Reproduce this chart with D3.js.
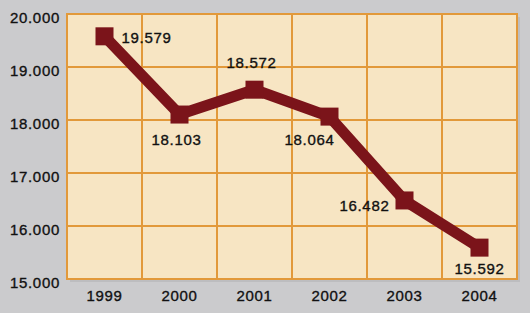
<!DOCTYPE html>
<html>
<head>
<meta charset="utf-8">
<script src="https://cdn.jsdelivr.net/npm/d3@7"></script>
<style>
  body { margin: 0; background: #cbcbcd; }
  svg { display: block; }
  text { font-family: "Liberation Sans", Arial, sans-serif; font-size: 15px; fill: #111; stroke: #111; stroke-width: 0.35px; letter-spacing: 0.7px; }
</style>
</head>
<body>
<div id="container"></div>
<script>
/* DATA */
const years = ["1999", "2000", "2001", "2002", "2003", "2004"];
const values = [19579, 18103, 18572, 18064, 16482, 15592];
const valueLabels = ["19.579", "18.103", "18.572", "18.064", "16.482", "15.592"];
const yTicks = [15000, 16000, 17000, 18000, 19000, 20000];
const yTickLabels = ["15.000", "16.000", "17.000", "18.000", "19.000", "20.000"];

// where each value label sits relative to its marker
const labelPlace = [
  {dx: 17, dy: 7, anchor: "start"},
  {dx: -3, dy: 30, anchor: "middle"},
  {dx: -3, dy: -22, anchor: "middle"},
  {dx: -20, dy: 28, anchor: "middle"},
  {dx: -15, dy: 11, anchor: "end"},
  {dx: 0, dy: 26, anchor: "middle"}
];

const W = 530, H = 313;
const margin = {top: 14, right: 13, bottom: 34, left: 67};
const width = W - margin.left - margin.right,
  height = H - margin.top - margin.bottom;

const svg = d3.select("#container")
  .append("svg")
  .attr("width", W)
  .attr("height", H);

svg.append("rect")
  .attr("width", W).attr("height", H)
  .attr("fill", "#cbcbcd");

const g = svg.append("g")
  .attr("transform", `translate(${margin.left},${margin.top})`);

const xScale = d3.scaleBand()
  .domain(years)
  .range([0, width]);

const yScale = d3.scaleLinear()
  .domain([15000, 20000])
  .range([height, 0]);

// shadow + plot background
g.append("rect")
  .attr("x", 3).attr("y", 3)
  .attr("width", width).attr("height", height)
  .attr("fill", "#bdbdbf");
g.append("rect")
  .attr("width", width).attr("height", height)
  .attr("fill", "#f7e5c3");

// grid lines
g.selectAll(".hgrid")
  .data(yTicks)
  .join("line")
  .attr("x1", 0).attr("x2", width)
  .attr("y1", d => yScale(d)).attr("y2", d => yScale(d))
  .attr("stroke", "#e2993a")
  .attr("stroke-width", 2);

g.selectAll(".vgrid")
  .data(years.slice(1))
  .join("line")
  .attr("x1", d => xScale(d)).attr("x2", d => xScale(d))
  .attr("y1", 0).attr("y2", height)
  .attr("stroke", "#e2993a")
  .attr("stroke-width", 2);

g.append("rect")
  .attr("width", width).attr("height", height)
  .attr("fill", "none")
  .attr("stroke", "#e2993a")
  .attr("stroke-width", 2);

// axes labels
const yAxis = g.append("g")
  .call(d3.axisLeft(yScale).tickValues(yTicks)
    .tickFormat((d, i) => yTickLabels[i]).tickSize(0).tickPadding(7));
yAxis.select(".domain").remove();
yAxis.selectAll("text")
  .attr("dy", "0.55em")
  .style("font-size", "15px")
  .attr("fill", "#111");

const xAxis = g.append("g")
  .attr("transform", `translate(0,${height})`)
  .call(d3.axisBottom(xScale).tickSize(0).tickPadding(11));
xAxis.select(".domain").remove();
xAxis.selectAll("text")
  .style("font-size", "15px")
  .attr("fill", "#111");

// line and markers
const cx = d => xScale(d) + xScale.bandwidth() / 2;
const pts = years.map((y, i) => [cx(y), yScale(values[i])]);

g.append("path")
  .datum(pts)
  .attr("d", d3.line())
  .attr("fill", "none")
  .attr("stroke", "#7b141a")
  .attr("stroke-width", 11)
  .attr("stroke-linejoin", "miter");

const size = 18;
g.selectAll(".marker")
  .data(pts)
  .join("rect")
  .attr("x", d => d[0] - size / 2)
  .attr("y", d => d[1] - size / 2)
  .attr("width", size).attr("height", size)
  .attr("fill", "#7b141a");

g.selectAll(".vlabel")
  .data(pts)
  .join("text")
  .attr("x", (d, i) => d[0] + labelPlace[i].dx)
  .attr("y", (d, i) => d[1] + labelPlace[i].dy)
  .attr("text-anchor", (d, i) => labelPlace[i].anchor)
  .text((d, i) => valueLabels[i]);
</script>
</body>
</html>
